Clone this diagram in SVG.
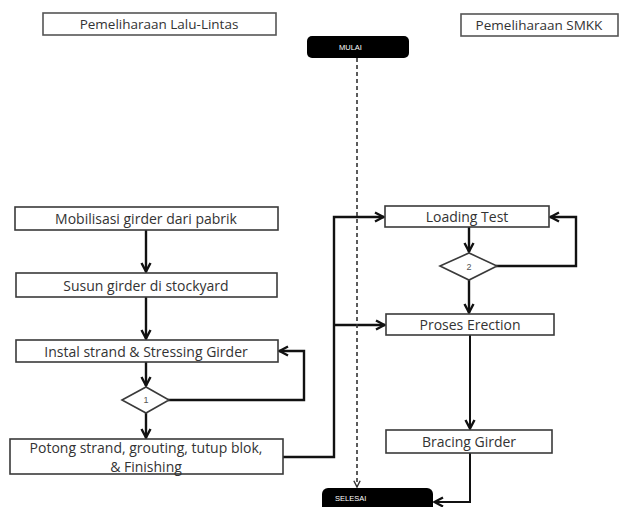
<svg xmlns="http://www.w3.org/2000/svg" width="623" height="507" viewBox="0 0 623 507">
<defs>
<style>
.box{fill:#fff;stroke:#3a3a3a;stroke-width:1.6}
.hdr{fill:#fff;stroke:#555;stroke-width:1.6}
.dia{fill:#fff;stroke:#3a3a3a;stroke-width:1.6}
.term{fill:#000;stroke:none}
.t{font-family:"Open Sans","Liberation Sans",sans-serif;font-size:14px;fill:#333;text-anchor:middle;dominant-baseline:central}
.th{font-family:"Open Sans","Liberation Sans",sans-serif;font-size:13.5px;fill:#333;text-anchor:middle;dominant-baseline:central}
.tw{font-family:"Liberation Sans",sans-serif;font-size:7.5px;fill:#fff;dominant-baseline:central}
.td{font-family:"Liberation Sans",sans-serif;font-size:9px;fill:#555;text-anchor:middle;dominant-baseline:central}
.c{fill:none;stroke:#111;stroke-width:2.4;marker-end:url(#ah)}
.dash{fill:none;stroke:#333;stroke-width:1.6;stroke-dasharray:4 3;marker-end:url(#ahs)}
</style>
<marker id="ah" viewBox="0 0 12 12" refX="11" refY="6" markerWidth="12" markerHeight="12" markerUnits="userSpaceOnUse" orient="auto">
<path d="M2,1.5 L10.5,6 L2,10.5" fill="none" stroke="#111" stroke-width="2.4"/>
</marker>
<marker id="ahs" viewBox="0 0 10 10" refX="9" refY="5" markerWidth="9" markerHeight="9" markerUnits="userSpaceOnUse" orient="auto">
<path d="M2,1.5 L9,5 L2,8.5" fill="none" stroke="#333" stroke-width="1.6"/>
</marker>
</defs>
<rect width="623" height="507" fill="#fff"/>

<g id="connectors">
<path class="c" d="M146,230 V272"/>
<path class="c" d="M146,297 V339"/>
<path class="c" d="M146,362 V386"/>
<path class="c" d="M146,413 V438"/>
<path class="c" d="M168,400 H304 V351 H279"/>
<path class="c" d="M283,457 H334 V217 H384"/>
<path class="c" d="M334,325 H385"/>
<path class="c" d="M469,227 V252"/>
<path class="c" d="M496,266 H576 V217 H550"/>
<path class="c" d="M469,280 V313"/>
<path class="c" d="M470,335 V429" style="stroke-width:2"/>
<path class="c" d="M470,453 V502 H434" style="stroke-width:2"/>
<path class="dash" d="M357,58 V487"/>
</g>

<g id="hdr-lalulintas"><rect class="hdr" x="43" y="13" width="233" height="22"/><text class="th" x="159" y="24">Pemeliharaan Lalu-Lintas</text></g>
<g id="hdr-smkk"><rect class="hdr" x="461" y="14" width="157" height="22"/><text class="th" x="539" y="25">Pemeliharaan SMKK</text></g>

<g id="mulai"><rect class="term" x="307" y="36" width="102" height="22" rx="5"/><text class="tw" x="339" y="47">MULAI</text></g>
<g id="selesai"><rect class="term" x="322" y="488" width="111" height="26" rx="6"/><text class="tw" x="335" y="498">SELESAI</text></g>

<g id="mobilisasi"><rect class="box" x="15" y="207" width="263" height="23"/><text class="t" x="146" y="218.5">Mobilisasi girder dari pabrik</text></g>
<g id="susun"><rect class="box" x="16" y="273" width="261" height="24"/><text class="t" x="146" y="285">Susun girder di stockyard</text></g>
<g id="instal"><rect class="box" x="16" y="340" width="262" height="22"/><text class="t" x="146" y="351">Instal strand &amp; Stressing Girder</text></g>
<g id="d1"><polygon class="dia" points="122,400 146,387 169,400 146,413"/><text class="td" x="146" y="400">1</text></g>
<g id="potong"><rect class="box" x="10" y="439" width="273" height="35"/><text class="t" x="146" y="447">Potong strand, grouting, tutup blok,</text><text class="t" x="146" y="466">&amp; Finishing</text></g>

<g id="loading"><rect class="box" x="385" y="206" width="164" height="21"/><text class="t" x="467" y="216.5">Loading Test</text></g>
<g id="d2"><polygon class="dia" points="440,266 469,253 497,266 469,280"/><text class="td" x="469" y="267">2</text></g>
<g id="erection"><rect class="box" x="386" y="314" width="168" height="21"/><text class="t" x="470" y="324.5">Proses Erection</text></g>
<g id="bracing"><rect class="box" x="386" y="430" width="166" height="23"/><text class="t" x="469" y="441.5">Bracing Girder</text></g>
</svg>
